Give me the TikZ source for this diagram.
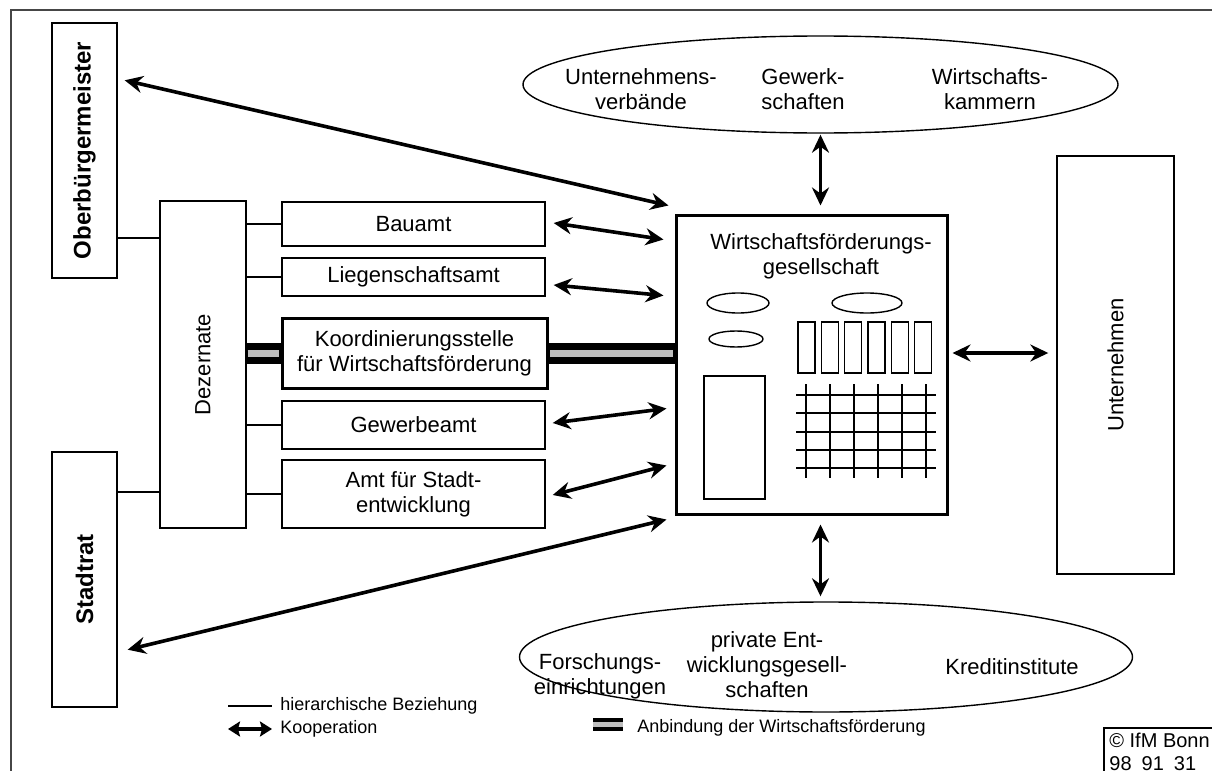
\documentclass[tikz,border=0pt]{standalone}
\usepackage{graphicx}
\usepackage{fontspec}
\setmainfont{Liberation Sans}
\usepackage{tikz}
\usetikzlibrary{arrows.meta}
\usetikzlibrary{shapes.geometric}
\definecolor{bandgray}{RGB}{190, 190, 190}
\definecolor{framegray}{RGB}{70, 70, 70}

\begin{document}
\begin{tikzpicture}[x=0.5pt, y=-0.5pt,
    amtbox/.style={draw, line width=0.7pt, inner sep=0pt, align=center, font=\fontsize{11}{12.5}\selectfont},
    organbox/.style={amtbox, minimum width=32.5pt, minimum height=127.5pt, font=\fontsize{12}{14}\selectfont\bfseries},
    gruppe/.style={draw, ellipse, line width=0.7pt, inner sep=0pt},
    txt/.style={align=center, inner sep=0pt, font=\fontsize{11}{12.5}\selectfont},
    legtxt/.style={anchor=west, inner sep=0pt, font=\fontsize{9}{10.5}\selectfont},
    koop/.style={{Stealth[length=9pt,width=8.5pt,inset=3pt]}-{Stealth[length=9pt,width=8.5pt,inset=3pt]}, line width=1.8pt},
    legkoop/.style={{Stealth[length=6pt,width=7.5pt,inset=1pt]}-{Stealth[length=6pt,width=7.5pt,inset=1pt]}, line width=1.8pt},
    hier/.style={line width=0.7pt},
    fein/.style={line width=0.7pt}]
    \useasboundingbox (0,0) rectangle (1212,771);
    \clip (0,0) rectangle (1212,771);
    % Rahmen
    \draw[framegray, line width=0.8pt] (11,790) -- (11,10) -- (1230,10);

    % Stadtverwaltung
    \node[organbox] (ober)  at (84.5,150.5) {\rotatebox{90}{Oberbürgermeister}};
    \node[organbox] (stadt) at (84.5,579.5) {\rotatebox{90}{Stadtrat}};
    \node[amtbox, minimum width=43pt, minimum height=163.5pt] (dez) at (203,364.5) {\rotatebox{90}{Dezernate}};
    \node[amtbox, minimum width=131.5pt, minimum height=22pt] (bau)      at (413.5,224) {Bauamt};
    \node[amtbox, minimum width=131.5pt, minimum height=19pt] (lieg)     at (413.5,277) {Liegenschaftsamt};
    \node[amtbox, line width=1.5pt, minimum width=132.5pt, minimum height=35pt] (koord) at (414.5,353)
         {Koordinierungsstelle\\für Wirtschaftsförderung};
    \node[amtbox, minimum width=131.5pt, minimum height=24pt] (gew)      at (413.5,425) {Gewerbeamt};
    \node[amtbox, minimum width=131.5pt, minimum height=34pt] (stadtent) at (413.5,494) {Amt für Stadt-\\entwicklung};

    % Wirtschaftsfoerderungsgesellschaft
    \node[draw, line width=1.5pt, minimum width=135.5pt, minimum height=149.5pt] (wfg) at (811.5,364.5) {};
    \node[txt] (wfgtitel) at (821,256) {Wirtschaftsförderungs-\\gesellschaft};
    \draw[fein] (738,303) ellipse [x radius=15.5pt, y radius=5pt];
    \draw[fein] (867,303) ellipse [x radius=17.5pt, y radius=5pt];
    \draw[fein] (736,339) ellipse [x radius=13.5pt, y radius=4pt];
    \foreach \i in {0,...,5}
        \draw[fein] ({798+23.3*\i},322) rectangle ++(17,51);
    \draw[fein] (704,376) rectangle (765,499);
    \foreach \x in {806,830,854,878,902,926}
        \draw[line width=0.8pt] (\x,384) -- (\x,478);
    \foreach \y in {395,413,432,450,468}
        \draw[line width=0.8pt] (796,\y) -- (936,\y);

    % Unternehmen
    \node[amtbox, minimum width=58.5pt, minimum height=209pt] (unt) at (1115.5,365) {\rotatebox{90}{Unternehmen}};

    % Verbaende oben
    \node[gruppe, minimum width=297.5pt, minimum height=48.5pt] (verb) at (820.5,84.5) {};
    \node[txt] (uv) at (641,89) {Unternehmens-\\verbände};
    \node[txt] (gw) at (803,89) {Gewerk-\\schaften};
    \node[txt] (wk) at (990,89) {Wirtschafts-\\kammern};

    % Einrichtungen unten
    \node[gruppe, minimum width=306.5pt, minimum height=55pt] (einr) at (826,657) {};
    \node[txt] (fe) at (600,676.5) {Forschungs-\\einrichtungen};
    \node[txt] (pe) at (767,665) {private Ent-\\wicklungsgesell-\\schaften};
    \node[txt] (ki) at (1012,667) {Kreditinstitute};

    % hierarchische Linien
    \path ([yshift=-43.75pt]ober.east) coordinate (oberOut);
    \path ([yshift=43.75pt]stadt.east) coordinate (stadtOut);
    \draw[hier] (oberOut) -- (oberOut -| dez.west);
    \draw[hier] (stadtOut) -- (stadtOut -| dez.west);
    \foreach \n in {bau,lieg,gew,stadtent}
        \draw[hier] (\n.west) -- (\n.west -| dez.east);

    % Anbindung
    \draw[line width=10.5pt] (koord.west -| dez.east) -- (koord.west);
    \draw[line width=10.5pt] (koord.east) -- (koord.east -| wfg.west);
    \draw[bandgray, line width=3.5pt, shorten <=0.4pt, shorten >=0.75pt] (koord.west -| dez.east) -- (koord.west);
    \draw[bandgray, line width=3.5pt, shorten <=0.75pt, shorten >=0.75pt] (koord.east) -- (koord.east -| wfg.west);

    % Kooperation
    \draw[koop] ([xshift=3.5pt,yshift=-29pt]ober.north east) -- ([xshift=-3pt,yshift=4pt]wfg.north west);
    \draw[koop] ([xshift=5pt,yshift=29pt]stadt.south east) -- ([xshift=-4pt,yshift=-2pt]wfg.south west);
    \draw[koop] ([xshift=4pt,yshift=0.5pt]bau.east) -- ([xshift=-5.5pt,yshift=-13pt]wfg.north west);
    \draw[koop] ([xshift=4pt,yshift=-4pt]lieg.east) -- ([xshift=-5.5pt,yshift=-41pt]wfg.north west);
    \draw[koop] ([xshift=3.5pt,yshift=1pt]gew.east) -- ([xshift=-4pt,yshift=-97.5pt]wfg.north west);
    \draw[koop] ([xshift=3.5pt,yshift=-0.5pt]stadtent.east) -- ([xshift=-4pt,yshift=-126pt]wfg.north west);
    \path (wfg.north -| verb.south) coordinate (wfgTop);
    \path (wfg.south -| verb.south) coordinate (wfgBot);
    \path (einr.north -| verb.south) coordinate (einrTop);
    \draw[koop] ([yshift=-0.5pt]verb.south) -- ([yshift=4pt]wfgTop);
    \draw[koop] ([yshift=-4.5pt]wfgBot) -- ([yshift=2.5pt]einrTop);
    \draw[koop] ([xshift=2pt,yshift=5.75pt]wfg.east) -- ([xshift=-4pt,yshift=6pt]unt.west);

    % Legende
    \coordinate (legA) at (228,706);
    \coordinate (legB) at (272,706);
    \coordinate (legC) at (228,729);
    \coordinate (legD) at (272,729);
    \draw[hier] (legA) -- (legB);
    \node[legtxt] (leghier) at (280,706) {hierarchische Beziehung};
    \draw[legkoop] (legC) -- (legD);
    \node[legtxt] (legkoopt) at (280,729) {Kooperation};
    \fill (593,718) rectangle (623,731);
    \fill[bandgray] (593,722) rectangle (623,727);
    \node[legtxt] (legband) at (637,728) {Anbindung der Wirtschaftsförderung};
    % Quelle
    \draw[fein] (1104,728) rectangle (1240,800);
    \node[anchor=north west, align=left, inner sep=0pt, font=\fontsize{10}{11.5}\selectfont] (ifm) at (1109,733)
         {© IfM Bonn\\98\enspace 91\enspace 31};
\end{tikzpicture}
\end{document}
